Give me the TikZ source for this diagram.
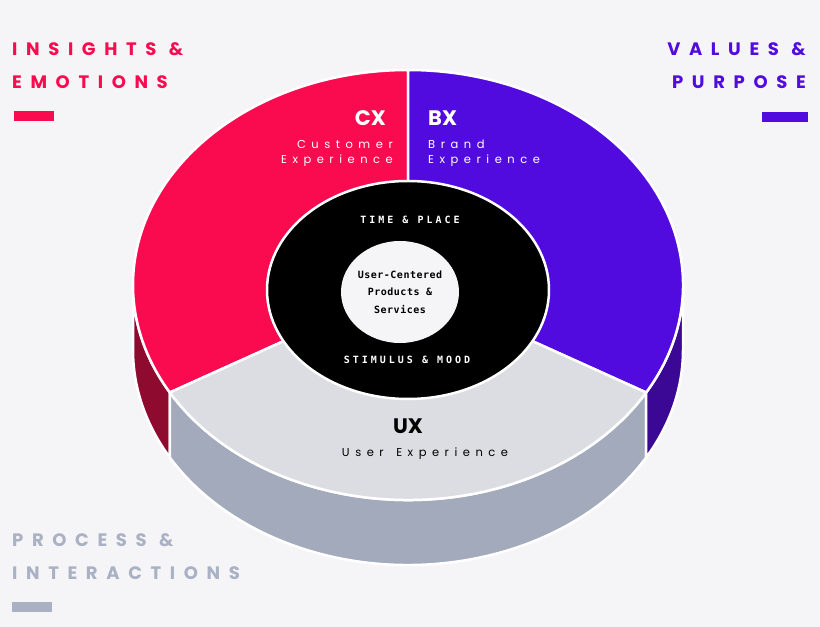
\documentclass[tikz,border=0pt]{standalone}
\usepackage{fontspec}
\usetikzlibrary{calc,shapes.geometric}
\setmainfont{Poppins}
\newfontfamily\hdf[LetterSpace=48]{Poppins}
\newfontfamily\spf[LetterSpace=48]{Poppins}
\newfontfamily\mnf[LetterSpace=30]{DejaVu Sans Mono}
\newfontfamily\mnc[LetterSpace=5]{DejaVu Sans Mono}
\definecolor{bg}{HTML}{F5F5F7}
\definecolor{cred}{HTML}{FA0A4E}
\definecolor{cpur}{HTML}{510BDF}
\definecolor{cgry}{HTML}{DCDDE2}
\definecolor{dred}{HTML}{8E0A2F}
\definecolor{dpur}{HTML}{3A0895}
\definecolor{dgry}{HTML}{A3AABB}
\definecolor{lgry}{HTML}{AAB1C4}
\begin{document}
\begin{tikzpicture}[x=1pt,y=1pt,
  sec/.style={draw=white,line width=2.5pt,line join=round},
  corner/.style={font=\hdf\bfseries\fontsize{18}{18}\selectfont,inner sep=0pt},
  big/.style={font=\bfseries\fontsize{21}{21}\selectfont,inner sep=0pt},
  sub/.style={font=\spf\fontsize{11.5}{11.5}\selectfont,inner sep=0pt},
  mono/.style={font=\mnf\bfseries\fontsize{10}{10}\selectfont,inner sep=0pt}]
\fill[bg] (0,0) rectangle (820,627);
\useasboundingbox (0,0) rectangle (820,627);
\def\rx{275}\def\ry{215}\def\h{65}
\coordinate (C) at (408,342);
% sides
\path[sec,fill=dred] ($(C)+(180:{\rx} and {\ry})$) arc[start angle=180,end angle=210,x radius=\rx,y radius=\ry] -- ++(0,-\h) arc[start angle=210,end angle=180,x radius=\rx,y radius=\ry] -- cycle;
\path[sec,fill=dgry] ($(C)+(210:{\rx} and {\ry})$) arc[start angle=210,end angle=330,x radius=\rx,y radius=\ry] -- ++(0,-\h) arc[start angle=330,end angle=210,x radius=\rx,y radius=\ry] -- cycle;
\path[sec,fill=dpur] ($(C)+(330:{\rx} and {\ry})$) arc[start angle=330,end angle=360,x radius=\rx,y radius=\ry] -- ++(0,-\h) arc[start angle=360,end angle=330,x radius=\rx,y radius=\ry] -- cycle;
% top
\path[sec,fill=cred] (C) -- ($(C)+(90:{\rx} and {\ry})$) arc[start angle=90,end angle=210,x radius=\rx,y radius=\ry] -- cycle;
\path[sec,fill=cpur] (C) -- ($(C)+(330:{\rx} and {\ry})$) arc[start angle=-30,end angle=90,x radius=\rx,y radius=\ry] -- cycle;
\path[sec,fill=cgry] (C) -- ($(C)+(210:{\rx} and {\ry})$) arc[start angle=210,end angle=330,x radius=\rx,y radius=\ry] -- cycle;
% inner
\node[ellipse,fill=black,draw=white,line width=2.5pt,minimum width=282,minimum height=218,inner sep=0] (ring) at (408,337) {};
\node[ellipse,fill=bg,minimum width=118,minimum height=102,inner sep=0] (core) at (400,335) {};
\node[text=black,align=center,inner sep=0,font=\mnc\bfseries\fontsize{10}{17.5}\selectfont] (ucp) at (core) {User-Centered\\Products \&\\Services};
\node[mono,text=white] (tp) at (410,407) {TIME \& PLACE};
\node[mono,text=white] (sm) at (407,267) {STIMULUS \& MOOD};
% labels
\node[big,text=white,anchor=east] (cx) at (386,509) {CX};
\node[sub,text=white,anchor=east,align=right,font=\spf\fontsize{11.5}{15}\selectfont] (cxs) at (393,474) {Customer\\Experience};
\node[big,text=white,anchor=west] (bx) at (428,509) {BX};
\node[sub,text=white,anchor=west,align=left,font=\spf\fontsize{11.5}{15}\selectfont] (bxs) at (428,474) {Brand\\Experience};
\node[big,text=black] (ux) at (408,201) {UX};
\node[sub,text=black] (uxs) at (425,173) {User\hspace{4pt} Experience};
% corners
\node[corner,text=cred,anchor=west] (ie1) at (12,578) {INSIGHTS \&};
\node[corner,text=cred,anchor=west] (ie2) at (12,545) {EMOTIONS};
\fill[cred] (14,506) rectangle (54,516);
\node[corner,text=cpur,anchor=east] (vp1) at (806,578) {VALUES \&};
\node[corner,text=cpur,anchor=east] (vp2) at (806,545) {PURPOSE};
\fill[cpur] (762,505) rectangle (808,515);
\node[corner,text=lgry,anchor=west] (pi1) at (12,87) {PROCESS \&};
\node[corner,text=lgry,anchor=west] (pi2) at (12,54) {INTERACTIONS};
\fill[lgry] (12,15) rectangle (52,25);
\end{tikzpicture}
\end{document}
